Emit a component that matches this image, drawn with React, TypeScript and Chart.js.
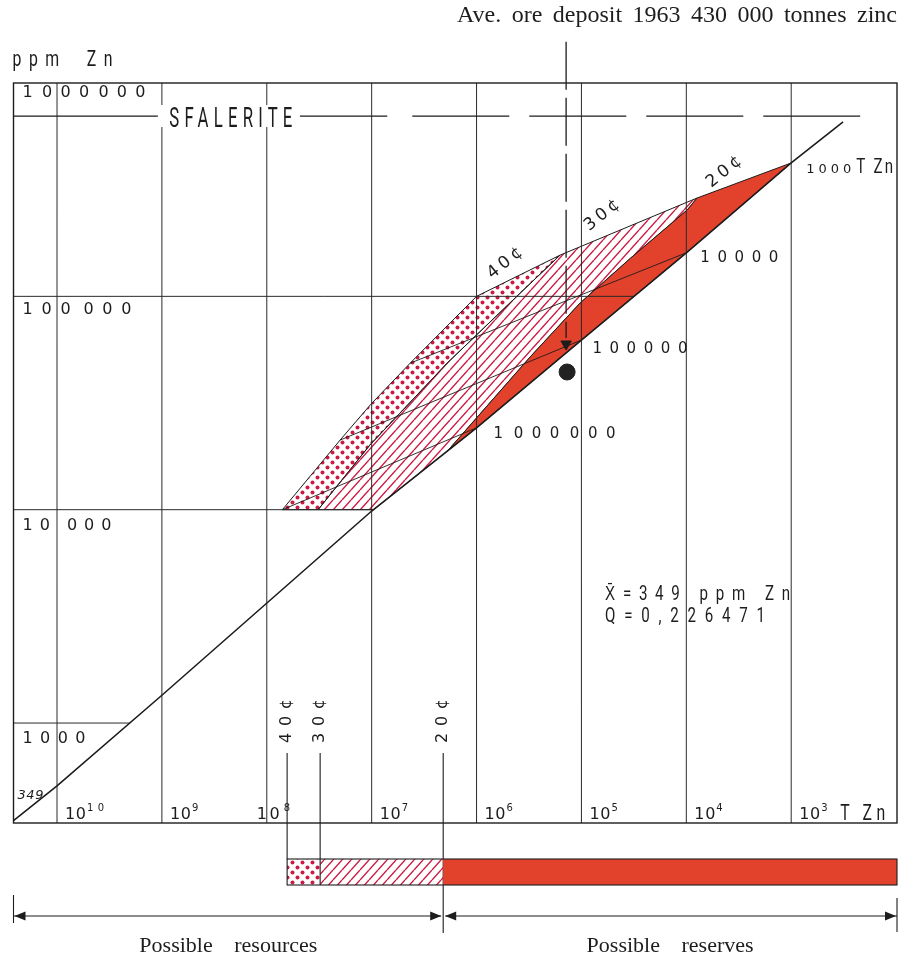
import React, { useEffect, useRef } from 'react';
import { Chart, registerables } from 'chart.js';

Chart.register(...registerables);

// ---------------- data (tonnes Zn on x, ppm Zn on y, both logarithmic) ----------------
const X_MIN = 98;
const X_MAX = 2.6e10;
const Y_MIN = 340;
const Y_MAX = 1e6;

const tonnageDecades = [1e10, 1e9, 1e8, 1e7, 1e6, 1e5, 1e4, 1e3];
const tonnageExponents = ['10', '9', '8', '7', '6', '5', '4', '3'];

const gradeGrid = [1e3, 1e4, 1e5];
const gradeGridEndT = [2.02e9, 9.6e6, 3.15e4];
const gradeLabelValues = [1e6, 1e5, 1e4, 1e3];
const gradeLabels = ['1 000 000', '100 000', '10 000', '1 000'];

// cumulative tonnage / grade line
const diagonalT = [2.6e10, 1e10, 1e9, 1e7, 1e6, 1e5, 1e4, 1e3, 320];
const diagonalP = [349, 507, 1350, 9860, 24200, 62400, 160000, 422000, 657000];
const diagonalMarkT = [1e6, 1e5, 1e4, 1e3];
const diagonalMarkP = [24200, 62400, 160000, 422000];
const diagonalMarkLabels = ['1 000 000', '100000', '10000', '1000'];

// 40 cent band (dotted)
const band40T = [7.1e7, 2.0e7, 1.03e7, 4.3e6, 1e6, 1.6e5, 3.44e5, 1.91e6, 1.04e7, 3.24e7, 7.1e7];
const band40P = [1e4, 21200, 31000, 48600, 1e5, 156000, 109000, 48600, 20100, 1e4, 1e4];
// 30 cent band (hatched)
const band30T = [3.24e7, 9.6e6, 1.9e6, 3.08e5, 1.03e5, 3.4e4, 9.8e3, 7.9e3, 1.6e5, 3.44e5, 1.91e6, 1.04e7, 3.24e7];
const band30P = [1e4, 1e4, 18800, 52000, 93000, 151000, 254000, 289000, 156000, 109000, 48600, 20100, 1e4];
// 20 cent band (solid red)
const band20T = [1.9e6, 3.08e5, 1.03e5, 3.4e4, 9.8e3, 7.9e3, 1e3, 1e4, 1e5, 1e6, 1.9e6];
const band20P = [18800, 52000, 93000, 151000, 254000, 289000, 422000, 160000, 62400, 24200, 18800];

// iso-tonnage lines across the bands
const isoStartT = [7.1e7, 2.0e7, 4.3e6];
const isoStartP = [1e4, 21200, 48600];
const isoEndT = [1e6, 1e5, 1e4];
const isoEndP = [24200, 62400, 160000];

const sphaleriteP = 7e5;
const sphaleriteSolidT = [X_MAX, 7.1e6];
const sphaleriteDashT = [4.1e6, 220];

const aveDepositT = 1.4e5;
const aveDepositLineP = [1.56e6, 63800];
const aveArrowP = 59800;
const aveDotT = 1.37e5;
const aveDotP = 44200;

const cutoffLabels = ['40¢', '30¢', '20¢'];
const cutoffT = [6.4e7, 3.1e7, 2.08e6];
const envelopeLabelT = [5.35e5, 6.35e4, 4.36e3];
const envelopeLabelP = [143000, 240000, 383000];

const TITLE = 'Ave. ore deposit 1963 430 000 tonnes zinc';
const Y_TITLE = 'ppm Zn';
const X_UNIT = 'T Zn';
const SPHALERITE = 'SFALERITE';
const MEAN_LABEL = '349';
const STAT_1 = 'X\u0304=349 ppm Zn';
const STAT_2 = 'Q=0,226471';
const RESOURCES = 'Possible resources';
const RESERVES = 'Possible reserves';

// ---------------- styles ----------------
const INK = '#1d1d1d';
const RED = '#e2412b';
const CRIMSON = '#cc1a44';
const NUM = '"DejaVu Sans", sans-serif';
const COND = 'Roboto, "Liberation Sans", sans-serif';
const SERIF = '"Liberation Serif", "DejaVu Serif", serif';

type TOpts = {
  font: string;
  w?: number;
  gap?: number;
  sx?: number;
  align?: 'left' | 'center' | 'right';
  rot?: number;
  color?: string;
  base?: CanvasTextBaseline;
  mode?: 'word';
};

function txt(ctx: CanvasRenderingContext2D, s: string, x: number, y: number, o: TOpts) {
  ctx.save();
  ctx.translate(x, y);
  if (o.rot) ctx.rotate(o.rot);
  const sx = o.sx ?? 1;
  ctx.scale(sx, 1);
  ctx.font = o.font;
  ctx.fillStyle = o.color ?? INK;
  ctx.textBaseline = o.base ?? 'alphabetic';
  ctx.textAlign = 'left';
  const c: any = ctx;
  c.letterSpacing = '0px';
  c.wordSpacing = '0px';
  let width = ctx.measureText(s).width;
  if (o.w) {
    const W = o.w / sx;
    const chars = Array.from(s).filter((ch) => !/[\u0300-\u036f]/.test(ch));
    const spaces = chars.filter((ch) => ch === ' ').length;
    if (o.mode === 'word' && spaces) {
      c.wordSpacing = (W - width) / spaces + 'px';
    } else if (o.gap !== undefined && spaces) {
      const spaceAdv = ctx.measureText(' ').width;
      const nonAdv = width - spaces * spaceAdv;
      const nn = chars.length - spaces;
      const g = o.gap / sx;
      const L = nn > 1 ? (W - nonAdv - spaces * g) / (nn - 1) : 0;
      c.letterSpacing = L + 'px';
      c.wordSpacing = g - spaceAdv - L + 'px';
    } else if (chars.length > 1) {
      c.letterSpacing = (W - width) / (chars.length - 1) + 'px';
    }
    width = W;
  }
  const x0 = o.align === 'center' ? -width / 2 : o.align === 'right' ? -width : 0;
  ctx.fillText(s, x0, 0);
  ctx.restore();
}

function makeHatch(): CanvasPattern | string {
  const c = document.createElement('canvas');
  c.width = 9;
  c.height = 10;
  const g = c.getContext('2d');
  if (!g) return CRIMSON;
  g.strokeStyle = CRIMSON;
  g.lineWidth = 1.4;
  g.beginPath();
  for (const k of [-1, 0, 1]) {
    g.moveTo(k * 9, 10);
    g.lineTo(k * 9 + 9, 0);
  }
  g.stroke();
  return g.createPattern(c, 'repeat') as CanvasPattern;
}

function makeDots(): CanvasPattern | string {
  const c = document.createElement('canvas');
  c.width = 10;
  c.height = 10;
  const g = c.getContext('2d');
  if (!g) return CRIMSON;
  g.fillStyle = CRIMSON;
  for (const [px, py] of [[2.5, 2.5], [7.5, 7.5]]) {
    g.beginPath();
    g.arc(px, py, 2, 0, Math.PI * 2);
    g.fill();
  }
  return g.createPattern(c, 'repeat') as CanvasPattern;
}

function arrowHead(ctx: CanvasRenderingContext2D, x: number, y: number, dir: number) {
  ctx.beginPath();
  ctx.moveTo(x, y);
  ctx.lineTo(x - dir * 11, y - 4.5);
  ctx.lineTo(x - dir * 11, y + 4.5);
  ctx.closePath();
  ctx.fill();
}

const pts = (T: number[], P: number[]) => T.map((t, i) => ({ x: t, y: P[i] }));

export default function App() {
  const ref = useRef<HTMLCanvasElement | null>(null);

  useEffect(() => {
    const canvas = ref.current;
    if (!canvas) return;
    const hatch = makeHatch();
    const dots = makeDots();

    const line = (data: { x: number; y: number }[], extra: any = {}) => ({
      data,
      showLine: true,
      pointRadius: 0,
      borderColor: INK,
      borderWidth: 1,
      fill: false,
      tension: 0,
      order: 3,
      ...extra,
    });

    const datasets: any[] = [
      line(pts(band20T, band20P), { fill: 'shape', backgroundColor: RED, order: 6 }),
      line(pts(band30T, band30P), { fill: 'shape', backgroundColor: hatch, order: 6 }),
      line(pts(band40T, band40P), { fill: 'shape', backgroundColor: dots, order: 6 }),
      ...tonnageDecades.map((d) => line(pts([d, d], [Y_MIN, Y_MAX]), { borderColor: '#2a2a2a', order: 4 })),
      ...gradeGrid.map((g, i) => line(pts([X_MAX, gradeGridEndT[i]], [g, g]), { borderColor: '#2a2a2a', order: 4 })),
      line(pts(sphaleriteSolidT, [sphaleriteP, sphaleriteP]), { borderWidth: 1.2 }),
      line(pts(sphaleriteDashT, [sphaleriteP, sphaleriteP]), { borderWidth: 1.2, borderDash: [97, 20] }),
      ...isoStartT.map((t, i) => line(pts([t, isoEndT[i]], [isoStartP[i], isoEndP[i]]), { borderWidth: 0.9 })),
      line(pts(diagonalT, diagonalP), { borderWidth: 1.6, order: 2 }),
      line(pts([aveDepositT, aveDepositT], aveDepositLineP), { borderWidth: 1.3, borderDash: [48, 8], clip: false, order: 1 }),
      {
        data: pts([aveDepositT], [aveArrowP]),
        showLine: false,
        pointStyle: 'triangle',
        rotation: 180,
        pointRadius: 6,
        pointBackgroundColor: INK,
        pointBorderColor: INK,
        order: 1,
      },
      {
        data: pts([aveDotT], [aveDotP]),
        showLine: false,
        pointStyle: 'circle',
        pointRadius: 8,
        pointBackgroundColor: '#222',
        pointBorderColor: '#222',
        order: 1,
      },
    ];

    const annot = {
      id: 'annot',
      beforeDraw(chart: any) {
        const ctx = chart.ctx;
        ctx.save();
        ctx.fillStyle = '#ffffff';
        ctx.fillRect(0, 0, chart.width, chart.height);
        ctx.restore();
      },
      afterDatasetsDraw(chart: any) {
        const ctx: CanvasRenderingContext2D = chart.ctx;
        const { left, right, top, bottom } = chart.chartArea;
        const xs = chart.scales.x;
        const ys = chart.scales.y;
        const X = (t: number) => xs.getPixelForValue(t);
        const Y = (p: number) => ys.getPixelForValue(p);

        ctx.save();
        ctx.strokeStyle = INK;
        ctx.lineWidth = 1.4;
        ctx.strokeRect(left, top, right - left, bottom - top);

        // title and axis names
        txt(ctx, TITLE, right - 440, 22, { font: `24px ${SERIF}`, w: 440, mode: 'word' });
        txt(ctx, Y_TITLE, left - 1, top - 17, { font: `22px ${COND}`, sx: 0.72, w: 100, gap: 20 });

        // sphalerite
        const sy = Y(sphaleriteP);
        const scx = X(2.2e8);
        ctx.fillStyle = '#ffffff';
        ctx.fillRect(scx - 73, sy - 11, 142, 22);
        txt(ctx, SPHALERITE, scx, sy + 11, { font: `27px ${COND}`, sx: 0.62, w: 123, align: 'center' });

        // grade labels at the left
        const gradeOff = [14, 18, 20, 20];
        const gradeW = [123, 109, 89, 63];
        const gradeGap = [1, 4, 10, 0];
        gradeLabelValues.forEach((v, i) => {
          txt(ctx, gradeLabels[i], left + 9, Y(v) + gradeOff[i], { font: `16px ${NUM}`, w: gradeW[i], gap: gradeGap[i] });
        });
        txt(ctx, MEAN_LABEL, left + 4, bottom - 24, { font: `italic 13px ${NUM}`, w: 26 });

        // tonnage labels along the bottom
        const by = bottom - 4;
        tonnageDecades.forEach((d, i) => {
          const gx = X(d);
          if (d === 1e8) {
            txt(ctx, '1 0', gx - 10, by, { font: `16px ${NUM}`, w: 23 });
            txt(ctx, tonnageExponents[i], gx + 17, by - 8, { font: `10px ${NUM}` });
          } else {
            txt(ctx, '10', gx + 8, by, { font: `16px ${NUM}`, w: 21 });
            txt(ctx, tonnageExponents[i], gx + 30, by - 8, { font: `10px ${NUM}`, w: tonnageExponents[i].length > 1 ? 17 : undefined });
          }
        });
        txt(ctx, X_UNIT, X(1e3) + 49, by + 1, { font: `22px ${COND}`, sx: 0.72, w: 45 });

        // labels on the tonnage/grade line
        const dOffX = [17, 11, 14, 15];
        const dOffY = [10, 13, 9, 10];
        const dW = [122, 95, 78, 45];
        diagonalMarkT.forEach((t, i) => {
          txt(ctx, diagonalMarkLabels[i], X(t) + dOffX[i], Y(diagonalMarkP[i]) + dOffY[i], {
            font: i === 3 ? `13px ${NUM}` : `15px ${NUM}`,
            w: dW[i],
            gap: i === 0 ? 2 : undefined,
          });
        });
        txt(ctx, X_UNIT, X(1e3) + 65, Y(422000) + 10, { font: `21px ${COND}`, sx: 0.72, w: 37 });

        // cut-off grade labels on the envelope
        envelopeLabelT.forEach((t, i) => {
          txt(ctx, cutoffLabels[i], X(t), Y(envelopeLabelP[i]), {
            font: `17px ${NUM}`, w: 40, align: 'center', base: 'middle', rot: (-39 * Math.PI) / 180,
          });
        });

        // statistics
        txt(ctx, STAT_1, X(5.95e4), Y(3780), { font: `21px ${COND}`, sx: 0.72, w: 185, gap: 12 });
        txt(ctx, STAT_2, X(5.95e4), Y(3780) + 22, { font: `21px ${COND}`, sx: 0.72, w: 160 });

        // cut-off lines, labels, bar and arrows below
        const barTop = bottom + 36;
        const barBot = bottom + 62;
        const arrY = bottom + 93;
        const cx = cutoffT.map(X);
        ctx.strokeStyle = INK;
        ctx.lineWidth = 1.1;
        cx.forEach((x, i) => {
          txt(ctx, cutoffLabels[i], x, bottom - 102, {
            font: `16px ${NUM}`, w: 44, align: 'center', base: 'middle', rot: -Math.PI / 2,
          });
          ctx.beginPath();
          ctx.moveTo(x, bottom - 70);
          ctx.lineTo(x, i < 2 ? barTop : bottom + 110);
          ctx.stroke();
        });

        ctx.fillStyle = dots as any;
        ctx.fillRect(cx[0], barTop, cx[1] - cx[0], barBot - barTop);
        ctx.fillStyle = hatch as any;
        ctx.fillRect(cx[1], barTop, cx[2] - cx[1], barBot - barTop);
        ctx.fillStyle = RED;
        ctx.fillRect(cx[2], barTop, right - cx[2], barBot - barTop);
        ctx.strokeRect(cx[0], barTop, right - cx[0], barBot - barTop);
        ctx.beginPath();
        ctx.moveTo(cx[1], barTop);
        ctx.lineTo(cx[1], barBot);
        ctx.stroke();

        // extent arrows
        ctx.beginPath();
        ctx.moveTo(left, bottom + 72);
        ctx.lineTo(left, bottom + 100);
        ctx.moveTo(right, bottom + 75);
        ctx.lineTo(right, bottom + 109);
        ctx.moveTo(left, arrY);
        ctx.lineTo(cx[2] - 2, arrY);
        ctx.moveTo(cx[2] + 2, arrY);
        ctx.lineTo(right, arrY);
        ctx.stroke();
        ctx.fillStyle = INK;
        arrowHead(ctx, left + 1, arrY, -1);
        arrowHead(ctx, cx[2] - 2, arrY, 1);
        arrowHead(ctx, cx[2] + 2, arrY, -1);
        arrowHead(ctx, right - 1, arrY, 1);

        txt(ctx, RESOURCES, (left + cx[2]) / 2, bottom + 129, { font: `22px ${SERIF}`, w: 178, mode: 'word', align: 'center' });
        txt(ctx, RESERVES, (cx[2] + right) / 2, bottom + 129, { font: `22px ${SERIF}`, w: 167, mode: 'word', align: 'center' });
        ctx.restore();
      },
    };

    const chart = new Chart(canvas, {
      type: 'scatter',
      data: { datasets },
      options: {
        animation: false,
        responsive: false,
        devicePixelRatio: 1,
        events: [],
        layout: { padding: { left: 13.5, right: 14, top: 83, bottom: 135 } },
        scales: {
          x: { type: 'logarithmic', reverse: true, min: X_MIN, max: X_MAX, display: false },
          y: { type: 'logarithmic', min: Y_MIN, max: Y_MAX, display: false },
        },
        plugins: { legend: { display: false }, tooltip: { enabled: false } },
      } as any,
      plugins: [annot],
    });
    return () => chart.destroy();
  }, []);

  return (
    <div style={{ position: 'absolute', left: 0, top: 0, width: 911, height: 958, background: '#fff' }}>
      <canvas ref={ref} width={911} height={958} style={{ display: 'block' }} />
    </div>
  );
}
